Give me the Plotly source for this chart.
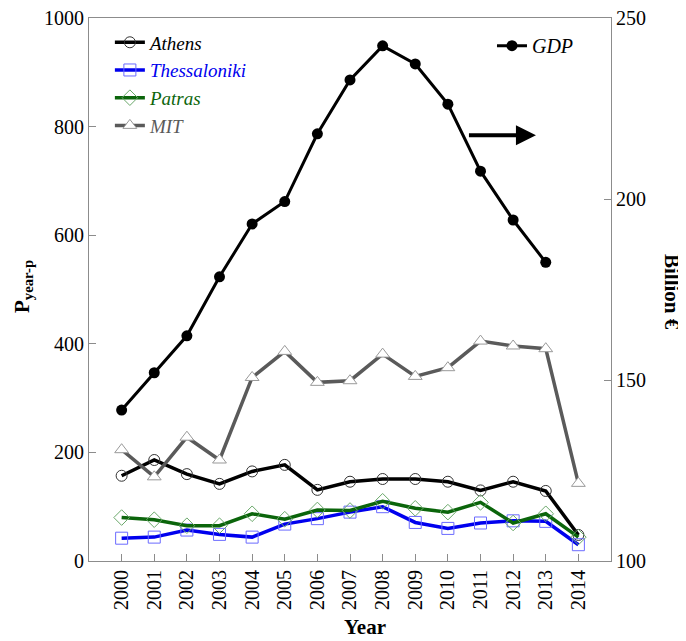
import plotly.graph_objects as go

years = list(range(2000, 2015))
athens = [157, 186, 160, 142, 165, 177, 131, 146, 151, 151, 146, 130, 146, 129, 48]
thessaloniki = [42, 44, 57, 49, 44, 68, 78, 90, 100, 71, 60, 70, 74, 73, 30]
patras = [80, 76, 65, 65, 87, 77, 94, 93, 110, 97, 90, 108, 70, 87, 44]
mit = [205, 155, 228, 186, 338, 386, 329, 332, 381, 340, 356, 405, 396, 391, 143]
gdp_years = list(range(2000, 2014))
gdp = [141.7, 152.0, 162.2, 178.5, 193.1, 199.3, 218.0, 232.9, 242.3, 237.3, 226.2, 207.7, 194.2, 182.5]

FONT = "Liberation Serif"

fig = go.Figure()

fig.add_trace(go.Scatter(
    x=years, y=athens, mode="lines+markers",
    name="<i>Athens</i>",
    line=dict(color="#000000", width=3.5),
    marker=dict(symbol="circle-open", size=11, color="#333333", line=dict(width=1)),
    legend="legend",
))
fig.add_trace(go.Scatter(
    x=years, y=thessaloniki, mode="lines+markers",
    name="<span style='color:#0000ee'><i>Thessaloniki</i></span>",
    line=dict(color="#0000ee", width=3.5),
    marker=dict(symbol="square-open", size=12, color="#6b6bff", line=dict(width=1)),
    legend="legend",
))
fig.add_trace(go.Scatter(
    x=years, y=patras, mode="lines+markers",
    name="<span style='color:#0b650b'><i>Patras</i></span>",
    line=dict(color="#0b650b", width=3.5),
    marker=dict(symbol="diamond-open", size=12, color="#6aa86a", line=dict(width=1)),
    legend="legend",
))
fig.add_trace(go.Scatter(
    x=years, y=mit, mode="lines+markers",
    name="<span style='color:#5a5a5a'><i>MIT</i></span>",
    line=dict(color="#5a5a5a", width=3.5),
    marker=dict(symbol="triangle-up", size=12, color="#ffffff", line=dict(width=1, color="#999999")),
    legend="legend",
))
fig.add_trace(go.Scatter(
    x=gdp_years, y=gdp, mode="lines+markers",
    name="<i>GDP</i>",
    line=dict(color="#000000", width=3),
    marker=dict(symbol="circle", size=11, color="#000000"),
    yaxis="y2",
    legend="legend2",
))

axis_common = dict(
    showline=True, linecolor="#8c8c8c", linewidth=1.2,
    ticks="inside", ticklen=7, tickcolor="#8c8c8c", tickwidth=1,
    showgrid=False, zeroline=False, automargin=False, ticklabeloverflow="allow",
    tickfont=dict(family=FONT, size=20, color="#000000"),
)

# the page body offsets the figure by 8px, so the figure is 8px smaller
fig.update_layout(
    width=678, height=633,
    margin=dict(l=81, r=75, t=10, b=80, autoexpand=False),
    paper_bgcolor="#ffffff", plot_bgcolor="#ffffff",
    font=dict(family=FONT, size=20, color="#000000"),
    xaxis=dict(range=[1999, 2015], tickmode="array", tickvals=years,
               ticktext=[str(y) for y in years], tickangle=-90, mirror=True, **axis_common),
    yaxis=dict(range=[0, 1000], tickmode="linear", tick0=0, dtick=200, mirror=False, **axis_common),
    yaxis2=dict(range=[100, 250], tickmode="linear", tick0=100, dtick=50,
                overlaying="y", side="right", **axis_common),
    legend=dict(x=0.040, y=0.990, xanchor="left", yanchor="top",
                bgcolor="rgba(0,0,0,0)", font=dict(family=FONT, size=19, color="#000000"),
                tracegroupgap=0, traceorder="normal"),
    legend2=dict(x=0.772, y=0.985, xanchor="left", yanchor="top",
                 bgcolor="rgba(0,0,0,0)", font=dict(family=FONT, size=20, color="#000000")),
    showlegend=True,
)

fig.add_annotation(x=2012.7, y=784, ax=2010.6, ay=784, xref="x", yref="y", axref="x", ayref="y",
                   text="", showarrow=True, arrowhead=2, arrowsize=1, arrowwidth=4, arrowcolor="#000000")

fig.add_annotation(x=-0.1552, y=0.5064, xref="paper", yref="paper", text="<b>P<sub>year-p</sub></b>",
                   showarrow=False, textangle=-90, font=dict(family=FONT, size=21, color="#000000"),
                   xanchor="left", yanchor="middle")
fig.add_annotation(x=0.5287, y=-0.1473, xref="paper", yref="paper", text="<b>Year</b>",
                   showarrow=False, font=dict(family=FONT, size=21, color="#000000"),
                   xanchor="center", yanchor="bottom")
fig.add_annotation(x=1.1437, y=0.4954, xref="paper", yref="paper", text="<b>Billion €</b>",
                   showarrow=False, textangle=90, font=dict(family=FONT, size=21, color="#000000"),
                   xanchor="right", yanchor="middle")

fig.write_html("out.html")
